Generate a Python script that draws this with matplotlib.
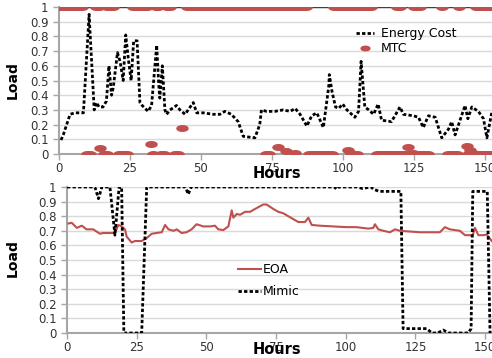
import matplotlib
matplotlib.use("Agg")
import matplotlib.pyplot as plt
from matplotlib.path import Path
from matplotlib.ticker import FuncFormatter
import numpy as np

# ---- top panel: Energy Cost (dashed) + MTC (dots) ----
energy_hours = [0.7, 1.5, 3.9, 5.6, 8.6, 10.6, 12.4, 13.2, 14.1, 15.5, 16.7, 17.6, 18.5,
                19.1, 20.6, 21.5, 22.6, 23.5, 24.4, 25.4, 26.3, 27.5, 28.5, 29.3, 31.4,
                32.6, 34.4, 35.2, 35.5, 36.4, 37.3, 37.9, 39.1, 41.4, 42.6, 44.4, 47.3,
                48.5, 50.8, 54.3, 56.7, 58.4, 60.7, 63.1, 64.9, 69.0, 70.7, 71.3, 73.1,
                76.0, 79.0, 81.4, 83.2, 84.9, 87.3, 89.0, 90.8, 93.1, 95.0, 95.2, 96.2,
                97.4, 98.5, 99.9, 101.4, 104.2, 105.5, 106.4, 107.7, 109.1, 110.8, 112.4,
                113.6, 117.1, 120.1, 121.3, 124.8, 126.6, 128.3, 130.1, 132.5, 134.8,
                137.2, 138.3, 139.5, 143.0, 144.0, 145.4, 147.7, 149.5, 150.7, 152.5]
energy_cost = [0.095, 0.13, 0.27, 0.28, 0.28, 0.95, 0.30, 0.35, 0.32, 0.32, 0.36, 0.60, 0.40,
               0.45, 0.69, 0.63, 0.50, 0.81, 0.65, 0.50, 0.77, 0.77, 0.35, 0.33, 0.29,
               0.33, 0.74, 0.45, 0.38, 0.60, 0.30, 0.27, 0.30, 0.33, 0.30, 0.27, 0.35,
               0.28, 0.28, 0.27, 0.27, 0.29, 0.27, 0.22, 0.12, 0.11, 0.20, 0.30, 0.29,
               0.29, 0.30, 0.29, 0.31, 0.27, 0.19, 0.26, 0.28, 0.18, 0.46, 0.54, 0.42,
               0.32, 0.31, 0.34, 0.30, 0.25, 0.29, 0.63, 0.32, 0.30, 0.27, 0.34,
               0.23, 0.22, 0.32, 0.27, 0.26, 0.25, 0.18, 0.26, 0.25, 0.11,
               0.17, 0.22, 0.13, 0.33, 0.24, 0.32, 0.29, 0.24, 0.11, 0.29]

mtc_one_hours = [*range(0, 9), 13, 14, *range(17, 20), *range(26, 32), 34, 35, 38, 39,
                 *range(45, 88), *range(97, 111), 119, 120, *range(125, 128), 135, 141,
                 *range(147, 153)]
mtc_zero_hours = [10, 11, 16, 17, *range(21, 25), 33, 36, 37, 41, 42, 73, 74,
                  *range(88, 97), *range(103, 106), *range(112, 131), *range(137, 141),
                  *range(144, 153)]
mtc_mid_hours = [14.4, 32.4, 43.3, 77, 80, 83, 101.7, 103, 123, 124.6, 143.7, 144.7, 145.8]
mtc_mid_vals = [0.04, 0.07, 0.177, 0.045, 0.02, 0.01, 0.025, 0.01, 0.045, 0.01, 0.055, 0.025, 0.01]

# ---- bottom panel: EOA (red) + Mimic (dashed) ----
eoa_hours = [0.5, 1.7, 3.5, 5.3, 7, 9.4, 11.8, 13, 16.6, 17.8, 18.4, 19.6, 20.8, 21.4, 23.2,
             24.4, 26.8, 28.6, 30.4, 32.2, 34, 35.2, 36.4, 38.2, 39.4, 41.1, 42.9, 44.7,
             46.5, 48.9, 51.3, 53.1, 54.3, 56.1, 57.9, 59.1, 59.7, 60.9, 62.1, 63.9, 65.7,
             67.5, 70.4, 71.6, 74, 75.8, 77.6, 79.4, 81.2, 83, 85.4, 86.6, 87.8, 90.7,
             95.5, 100.3, 103.9, 108.1, 109.9, 110.5, 111.7, 113.5, 115.9, 117.7, 119.5,
             123.1, 126.7, 130.9, 133.8, 135.6, 137.4, 141, 142.8, 144.6, 145.5, 146.4,
             147.6, 149.4, 150.6, 152.4]
eoa = [0.75, 0.755, 0.72, 0.735, 0.71, 0.71, 0.68, 0.685, 0.685, 0.71, 0.74, 0.73, 0.71, 0.66, 0.62,
       0.63, 0.63, 0.65, 0.68, 0.685, 0.69, 0.74, 0.71, 0.70, 0.71, 0.685, 0.69, 0.71,
       0.745, 0.73, 0.73, 0.735, 0.71, 0.705, 0.73, 0.84, 0.79, 0.815, 0.81, 0.83, 0.83,
       0.85, 0.88, 0.88, 0.85, 0.83, 0.82, 0.80, 0.78, 0.76, 0.76, 0.79, 0.74, 0.735,
       0.73, 0.725, 0.725, 0.715, 0.72, 0.745, 0.71, 0.70, 0.69, 0.71, 0.70,
       0.695, 0.69, 0.69, 0.69, 0.725, 0.71, 0.70, 0.67, 0.67, 0.665, 0.72,
       0.67, 0.67, 0.675, 0.63]

mimic_hours = [0, 10, 11.3, 12.5, 15.4, 17.2, 18.7, 19.6, 20.4, 26.8, 28.6, 42.5, 43.5, 44.5,
               96, 96.7, 97.5, 104, 106, 109, 110, 112, 119.8, 120.6, 129, 131, 133, 135,
               137, 144, 145, 145.6, 150.8, 151.8, 152.5]
mimic = [1, 1, 0.92, 1, 1, 0.67, 1, 1, 0, 0, 1, 1, 0.95, 1,
         1, 0.985, 1, 1, 0.99, 1, 0.985, 0.97, 0.97, 0.03, 0.03, 0.0, 0.0, 0.02,
         0.0, 0.0, 0.03, 0.97, 0.97, 0.0, 0.0]

red = "#c0504d"
grid_c = "#d9d9d9"
spine_c = "#a6a6a6"

t = np.linspace(0, 2 * np.pi, 40)
dot = Path(np.column_stack([np.cos(t), 0.5 * np.sin(t)]))

W, H = 492, 358
fig = plt.figure(figsize=(W / 100, H / 100), dpi=100)

def px_axes(l, top, r, bot):
    return fig.add_axes([l / W, 1 - bot / H, (r - l) / W, (bot - top) / H])

def style(ax):
    ax.set_xlim(0, 152.5)
    ax.set_ylim(0, 1)
    ax.set_xticks([0, 25, 50, 75, 100, 125, 150])
    ax.set_yticks(np.arange(0, 1.01, 0.1))
    ax.yaxis.set_major_formatter(FuncFormatter(lambda v, p: f"{v:g}"))
    ax.grid(axis="y", color=grid_c, lw=1)
    ax.set_axisbelow(True)
    for s in ["top", "right"]:
        ax.spines[s].set_visible(False)
    for s in ["left", "bottom"]:
        ax.spines[s].set_color(spine_c)
        ax.spines[s].set_linewidth(1.5)
    ax.tick_params(axis="both", colors=spine_c, labelcolor="#333333", labelsize=8.5,
                   length=4, width=1, direction="out")
    ax.tick_params(axis="x", pad=2)

ax1 = px_axes(59, 7, 492, 154)
style(ax1)
ax1.axhline(1, color="#404040", lw=1, zorder=1)
ax1.plot(energy_hours, energy_cost, color="black", lw=2, ls=(0, (1.2, 0.8)),
         label="Energy Cost", zorder=3)
ax1.plot(mtc_one_hours, [1] * len(mtc_one_hours), ls="none", marker=dot, ms=8,
         color=red, label="MTC", zorder=4)
ax1.plot(mtc_zero_hours, [0] * len(mtc_zero_hours), ls="none", marker=dot, ms=8,
         color=red, zorder=4)
ax1.plot(mtc_mid_hours, mtc_mid_vals, ls="none", marker=dot, ms=8, color=red, zorder=4)
ax1.legend(loc="upper left", bbox_to_anchor=(350 / W, 1 - 21 / H),
           bbox_transform=fig.transFigure, frameon=False, fontsize=9,
           handlelength=1.4, handletextpad=0.6, labelspacing=0.15, borderpad=0,
           markerscale=0.8)

ax2 = px_axes(67, 187, 492, 333)
style(ax2)
ax2.plot(eoa_hours, eoa, color=red, lw=1.5, label="EOA", zorder=3)
ax2.plot(mimic_hours, mimic, color="black", lw=2, ls=(0, (1.2, 0.8)), label="Mimic",
         zorder=3)
ax2.legend(loc="upper left", bbox_to_anchor=(232 / W, 1 - 257 / H),
           bbox_transform=fig.transFigure, frameon=False, fontsize=9,
           handlelength=1.8, handletextpad=0.2, labelspacing=0.7, borderpad=0)

lab_font = ["Liberation Sans Narrow", "DejaVu Sans"]
fig.text(13 / W, 1 - 80 / H, "Load", rotation=90, ha="center", va="center",
         fontsize=10, fontweight="bold", family=lab_font)
fig.text(13 / W, 1 - 258 / H, "Load", rotation=90, ha="center", va="center",
         fontsize=10, fontweight="bold", family=lab_font)
fig.text(277 / W, 1 - 173 / H, "Hours", ha="center", va="center", fontsize=10.5,
         fontweight="bold")
fig.text(277 / W, 1 - 350 / H, "Hours", ha="center", va="center", fontsize=10.5,
         fontweight="bold")

fig.savefig("out.png", dpi=100)
